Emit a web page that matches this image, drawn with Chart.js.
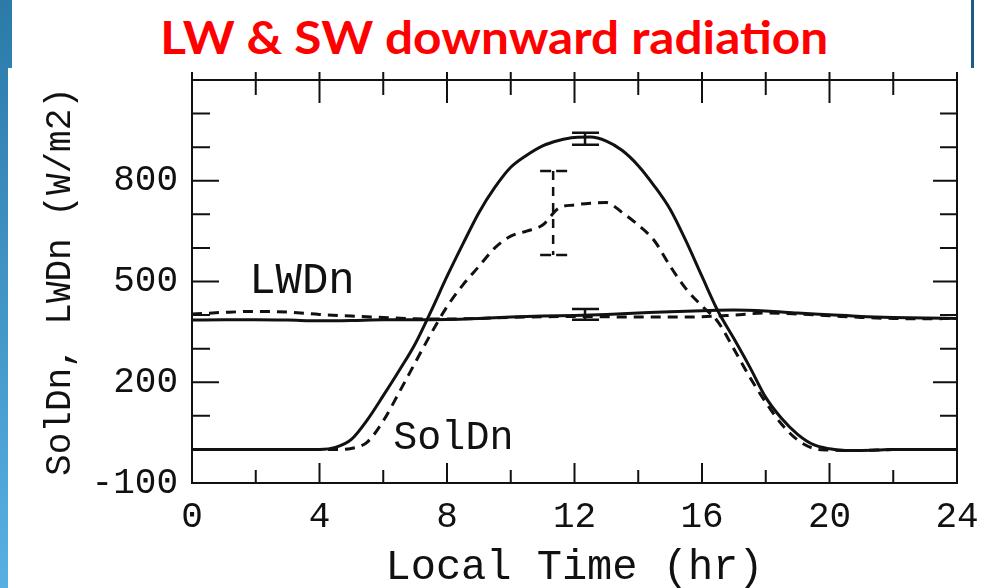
<!DOCTYPE html>
<html>
<head>
<meta charset="utf-8">
<title>LW &amp; SW downward radiation</title>
<script src="https://cdn.jsdelivr.net/npm/chart.js@4.4.1/dist/chart.umd.min.js"></script>
<style>
    html, body { margin: 0; padding: 0; background: #fff; }
    body { width: 992px; height: 588px; position: relative; overflow: hidden; }
    .bar-top { position: absolute; left: 0; top: 0; width: 12px; height: 68px; background: linear-gradient(#2b7aa8, #3081af); }
    .bar-side { position: absolute; left: 0; top: 0; width: 8px; height: 588px; background: linear-gradient(#2b7aa8, #58b0e2); }
    .edge { position: absolute; left: 971px; top: 0; width: 3px; height: 68px; background: #1d5c87; }
    .heading { position: absolute; left: 0; top: 9px; width: 988px; text-align: center; line-height: 1; }
    .heading span { display: inline-block; font: bold 46px Lato, sans-serif; color: #ff0000; transform-origin: center; white-space: nowrap; }
    .plot { position: absolute; left: 0; top: 0; width: 992px; height: 588px; }
</style>
</head>
<body>
<div class="bar-side"></div>
<div class="bar-top"></div>
<div class="edge"></div>
<div class="heading"><span id="heading">LW &amp; SW downward radiation</span></div>
<div class="plot"><canvas id="radChart" width="992" height="588"></canvas></div>

<script>
// ========== DATA ==========
// local time, half-hour steps for the shortwave curves
const solHours = [0, 0.5, 1, 1.5, 2, 2.5, 3, 3.5, 4, 4.5, 5, 5.5, 6, 6.5, 7, 7.5, 8, 8.5, 9, 9.5,
    10, 10.5, 11, 11.5, 12, 12.5, 13, 13.5, 14, 14.5, 15, 15.5, 16, 16.5, 17, 17.5, 18, 18.5, 19, 19.5,
    20, 20.5, 21, 21.5, 22, 22.5, 23, 23.5, 24];
const solDnSolid = [0, 0, 0, 0, 0, 0, 0, 0, 0, 6, 30, 88, 160, 235, 314, 412, 515, 612, 705, 780,
    840, 876, 904, 920, 929, 930, 918, 890, 845, 785, 715, 620, 515, 412, 330, 245, 155, 92, 45, 14,
    2, -3, -3, -2, 0, 0, 0, 0, 0];
const solDnDashed = [0, 0, 0, 0, 0, 0, 0, 0, 0, 0, 3, 22, 85, 170, 258, 345, 425, 490, 545, 600,
    635, 650, 668, 718, 728, 733, 735, 705, 668, 622, 546, 478, 427, 380, 299, 215, 140, 75, 28, 3,
    -2, -3, -3, -2, 0, 0, 0, 0, 0];

// longwave curves, hourly
const lwHours = [0, 1, 2, 3, 4, 5, 6, 7, 8, 9, 10, 11, 12, 13, 14, 15, 16, 17, 18, 19, 20, 21, 22, 23, 24];
const lwDnSolid = [385, 386, 386, 385, 383, 384, 386, 386, 387, 390, 394, 397, 399, 402, 406, 410, 413,
    415, 412, 406, 401, 396, 393, 391, 390];
const lwDnDashed = [403, 408, 411, 409, 402, 397, 393, 389, 388, 390, 393, 395, 396, 395, 394, 394, 395,
    400, 406, 403, 398, 393, 390, 389, 390];

// error bars at midday
const errHours = [11.33, 12.33, 12.33];
const errLow = [579, 907, 386];
const errHigh = [829, 943, 418];
const errDashed = [true, false, false];

// curve names written next to the lines
const curveNames = ['LWDn', 'SolDn'];
const curveNameHours = [3.45, 8.2];
const curveNameValues = [500, 33];
const curveNameSizes = [44, 40];

const xTickLabels = [0, 4, 8, 12, 16, 20, 24];
const yTickLabels = [-100, 200, 500, 800];

const INK = '#111';
const MONO = "'Liberation Mono', 'Courier New', monospace";

function points(xs, ys) {
    return xs.map((x, i) => ({ x, y: ys[i] }));
}

// ========== PLUGINS ==========
// box with inward ticks on all four sides
const framePlugin = {
    id: 'frame',
    afterDatasetsDraw(chart) {
        const { ctx, chartArea: a, scales: { x, y } } = chart;
        ctx.save();
        ctx.strokeStyle = INK;
        ctx.lineWidth = 2;
        ctx.beginPath();
        ctx.moveTo(a.left, a.top - 8);
        ctx.lineTo(a.left, a.bottom);
        ctx.lineTo(a.right, a.bottom);
        ctx.lineTo(a.right, a.top - 8);
        ctx.moveTo(a.left, a.top);
        ctx.lineTo(a.right, a.top);

        y.ticks.forEach(t => {
            const py = y.getPixelForValue(t.value);
            const major = yTickLabels.includes(t.value);
            ctx.moveTo(a.left, py);
            ctx.lineTo(a.left + (major ? 27 : 18), py);
            ctx.moveTo(a.right, py);
            ctx.lineTo(a.right - (major ? 24 : 17), py);
        });
        x.ticks.forEach(t => {
            const px = x.getPixelForValue(t.value);
            const major = xTickLabels.includes(t.value);
            ctx.moveTo(px, a.bottom);
            ctx.lineTo(px, a.bottom - (major ? 20 : 13));
            ctx.moveTo(px, a.top - 8);
            ctx.lineTo(px, a.top + (major ? 23 : 15));
        });
        ctx.stroke();
        ctx.restore();
    }
};

// vertical error bars with caps
const errorBarPlugin = {
    id: 'errorBars',
    afterDatasetsDraw(chart) {
        const { ctx, scales: { x, y } } = chart;
        ctx.save();
        ctx.strokeStyle = INK;
        ctx.lineWidth = 2.5;
        errHours.forEach((h, i) => {
            const px = x.getPixelForValue(h);
            const top = y.getPixelForValue(errHigh[i]);
            const bot = y.getPixelForValue(errLow[i]);
            ctx.setLineDash(errDashed[i] ? [9, 7] : []);
            ctx.beginPath();
            ctx.moveTo(px, top);
            ctx.lineTo(px, bot);
            ctx.stroke();
            ctx.setLineDash(errDashed[i] ? [11, 5] : []);
            ctx.beginPath();
            ctx.moveTo(px - 13, top);
            ctx.lineTo(px + 14, top);
            ctx.moveTo(px - 13, bot);
            ctx.lineTo(px + 14, bot);
            ctx.stroke();
        });
        ctx.restore();
    }
};

// LWDn / SolDn labels
const curveNamePlugin = {
    id: 'curveNames',
    afterDatasetsDraw(chart) {
        const { ctx, scales: { x, y } } = chart;
        ctx.save();
        ctx.fillStyle = INK;
        ctx.textAlign = 'center';
        ctx.textBaseline = 'middle';
        curveNames.forEach((name, i) => {
            ctx.font = curveNameSizes[i] + 'px ' + MONO;
            ctx.fillText(name, x.getPixelForValue(curveNameHours[i]), y.getPixelForValue(curveNameValues[i]));
        });
        ctx.restore();
    }
};

// ========== CHART ==========
function lineSet(label, data, dashed) {
    return {
        label,
        data,
        borderColor: INK,
        borderWidth: 3,
        borderDash: dashed ? [10, 7] : [],
        pointRadius: 0,
        fill: false,
        cubicInterpolationMode: 'monotone'
    };
}

function initChart() {
    new Chart(document.getElementById('radChart'), {
        type: 'line',
        data: {
            datasets: [
                lineSet('SolDn', points(solHours, solDnSolid), false),
                lineSet('SolDn obs', points(solHours, solDnDashed), true),
                lineSet('LWDn', points(lwHours, lwDnSolid), false),
                lineSet('LWDn obs', points(lwHours, lwDnDashed), true)
            ]
        },
        options: {
            responsive: false,
            animation: false,
            layout: { padding: { left: 0, right: 35, top: 80, bottom: 0 } },
            plugins: { legend: { display: false }, tooltip: { enabled: false } },
            scales: {
                x: {
                    type: 'linear',
                    min: 0,
                    max: 24,
                    grid: { display: false, drawTicks: false },
                    border: { display: false },
                    ticks: {
                        stepSize: 2,
                        autoSkip: false,
                        maxRotation: 0,
                        padding: 13,
                        color: INK,
                        font: { family: MONO, size: 36 },
                        callback: v => xTickLabels.includes(v) ? String(v) : ''
                    },
                    title: {
                        display: true,
                        text: 'Local Time (hr)',
                        color: INK,
                        font: { family: MONO, size: 42, lineHeight: 1 },
                        padding: { top: 0, bottom: -1 }
                    },
                    afterFit: s => { s.height = 105; }
                },
                y: {
                    min: -100,
                    max: 1100,
                    grid: { display: false, drawTicks: false },
                    border: { display: false },
                    ticks: {
                        stepSize: 100,
                        autoSkip: false,
                        padding: 14,
                        color: INK,
                        font: { family: MONO, size: 36 },
                        callback: v => yTickLabels.includes(v) ? String(v) : ''
                    },
                    title: {
                        display: true,
                        text: 'SolDn, LWDn (W/m2)',
                        color: INK,
                        font: { family: MONO, size: 36, lineHeight: 1 },
                        padding: { top: 42, bottom: 0 }
                    },
                    afterFit: s => { s.width = 192; }
                }
            }
        },
        plugins: [framePlugin, errorBarPlugin, curveNamePlugin]
    });
}

// squeeze the heading to its slide width
function fitHeading() {
    const el = document.getElementById('heading');
    const w = el.getBoundingClientRect().width;
    el.style.transform = `scaleX(${668 / w})`;
}

document.fonts.ready.then(() => {
    fitHeading();
    initChart();
});
</script>
</body>
</html>
